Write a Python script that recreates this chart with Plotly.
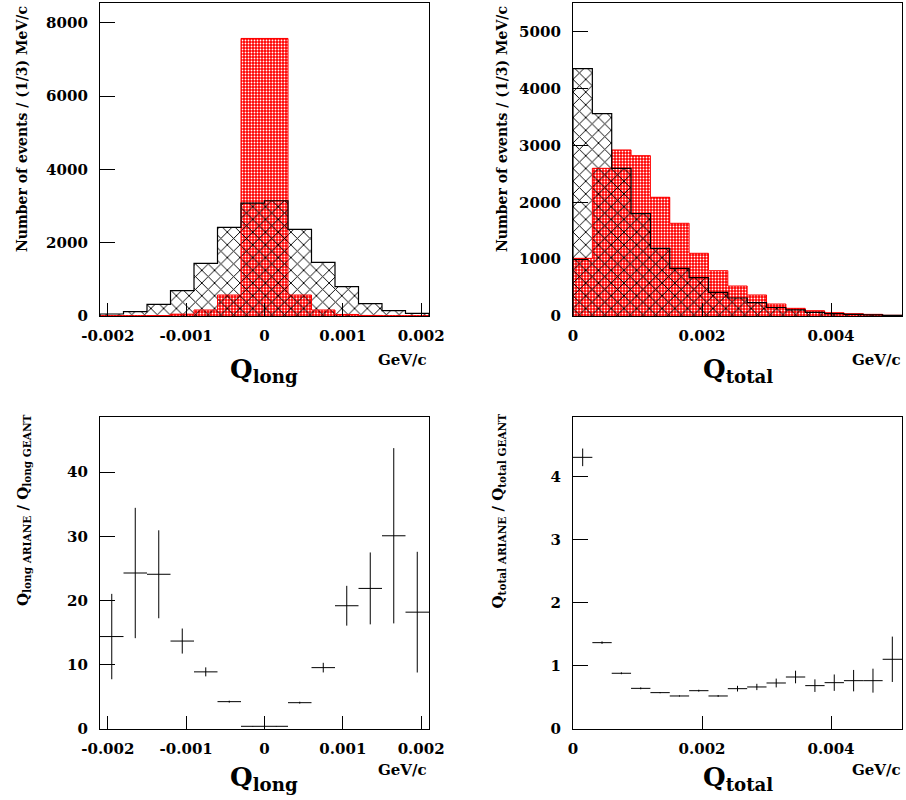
import plotly.graph_objects as go

# ---------------- data ----------------
BIN_W = 0.0003

# Q_long histograms (14 bins from -0.0021 to 0.0021)
qlong_lo = -0.0021
qlong_ariane = [55, 120, 318, 690, 1436, 2418, 3082, 3145, 2364, 1464, 800, 336, 145, 73]
qlong_geant = [4, 5, 13, 50, 164, 573, 7573, 7573, 573, 164, 42, 15, 5, 4]

# Q_total histograms (17 bins from 0 to 0.0051)
qtot_lo = 0.0
qtot_ariane = [4355, 3563, 2600, 1802, 1192, 839, 675, 417, 317, 235, 150, 108, 65, 43, 30, 20, 12]
qtot_geant = [1015, 2600, 2923, 2823, 2090, 1632, 1104, 798, 528, 370, 211, 135, 94, 59, 41, 29, 12]

# ratios ARIANE / GEANT
qlong_ratio = [14.4, 24.3, 24.1, 13.7, 8.9, 4.26, 0.42, 0.42, 4.1, 9.56, 19.2, 21.9, 30.1, 18.2]
qlong_ratio_err = [6.65, 10.15, 6.85, 1.95, 0.7, 0.15, 0.05, 0.05, 0.15, 0.75, 3.1, 5.6, 13.65, 9.4]
qtot_ratio = [4.31, 1.37, 0.884, 0.645, 0.577, 0.524, 0.608, 0.524, 0.64, 0.667, 0.73, 0.825,
              0.688, 0.735, 0.767, 0.767, 1.106]
qtot_ratio_err = [0.14, 0.02, 0.015, 0.015, 0.01, 0.01, 0.015, 0.015, 0.045, 0.05, 0.07, 0.1,
                  0.1, 0.13, 0.17, 0.19, 0.36]

# tick labels
qlong_tickvals = [-0.002, -0.001, 0, 0.001, 0.002]
qlong_ticktext = ["-0.002", "-0.001", "0", "0.001", "0.002"]
qtot_tickvals = [0, 0.002, 0.004]
qtot_ticktext = ["0", "0.002", "0.004"]

# ---------------- helpers ----------------
FONT = "DejaVu Serif"


def edges(lo, n):
    return [lo + i * BIN_W for i in range(n + 1)]


def centers(lo, n):
    return [lo + (i + 0.5) * BIN_W for i in range(n)]


def step_xy(lo, vals):
    e = edges(lo, len(vals))
    xs = [e[0]] + e + [e[-1]]
    ys = [0] + list(vals) + [vals[-1], 0]
    return xs, ys


fig = go.Figure()


def add_hist(lo, ariane, geant, xa, ya):
    n = len(ariane)
    c = centers(lo, n)
    # GEANT (red, fine checker)
    fig.add_trace(go.Bar(
        x=c, y=geant, width=BIN_W, xaxis=xa, yaxis=ya,
        marker=dict(color="red", line=dict(width=0),
                    pattern=dict(shape=".", fgcolor="white", bgcolor="red",
                                 size=3, solidity=0.3, fillmode="replace")),
        showlegend=False, hoverinfo="skip"))
    xs, ys = step_xy(lo, geant)
    fig.add_trace(go.Scatter(x=xs, y=ys, mode="lines", line=dict(color="red", width=1, shape="hv"),
                             xaxis=xa, yaxis=ya, showlegend=False, hoverinfo="skip"))
    # ARIANE (black cross hatch)
    fig.add_trace(go.Bar(
        x=c, y=ariane, width=BIN_W, xaxis=xa, yaxis=ya,
        marker=dict(color="rgba(0,0,0,0)", line=dict(width=0),
                    pattern=dict(shape="x", fgcolor="black", bgcolor="rgba(0,0,0,0)",
                                 size=9, solidity=0.2, fillmode="replace")),
        showlegend=False, hoverinfo="skip"))
    xs, ys = step_xy(lo, ariane)
    fig.add_trace(go.Scatter(x=xs, y=ys, mode="lines", line=dict(color="black", width=1.2, shape="hv"),
                             xaxis=xa, yaxis=ya, showlegend=False, hoverinfo="skip"))


def add_ratio(lo, vals, errs, xa, ya):
    n = len(vals)
    fig.add_trace(go.Scatter(
        x=centers(lo, n), y=vals, mode="markers",
        marker=dict(size=2, color="rgba(0,0,0,0)"),
        error_x=dict(type="data", array=[BIN_W / 2] * n, width=0, thickness=1, color="black"),
        error_y=dict(type="data", array=errs, width=0, thickness=1, color="black"),
        xaxis=xa, yaxis=ya, showlegend=False, hoverinfo="skip"))


add_hist(qlong_lo, qlong_ariane, qlong_geant, "x", "y")
add_hist(qtot_lo, qtot_ariane, qtot_geant, "x2", "y2")
add_ratio(qlong_lo, qlong_ratio, qlong_ratio_err, "x3", "y3")
add_ratio(qtot_lo, qtot_ratio, qtot_ratio_err, "x4", "y4")

W, H = 906, 800
tickfont = dict(family=FONT, size=15, color="black", weight="bold")

col_left = [100 / W, 429 / W]
col_right = [573 / W, 902 / W]
row_top = [1 - 316 / H, 1 - 3 / H]
row_bot = [1 - 729 / H, 1 - 417 / H]


def xax(dom, rng, tv, tt, anchor):
    return dict(domain=dom, range=rng, tickvals=tv, ticktext=tt, ticks="inside", ticklen=13,
                tickwidth=1, tickcolor="black", showline=True, linecolor="black", linewidth=1.3,
                mirror=True, showgrid=False, zeroline=False, tickfont=tickfont,
                ticklabelstandoff=6, anchor=anchor, fixedrange=True, automargin=False)


def yax(dom, rng, dtick, anchor):
    return dict(domain=dom, range=rng, dtick=dtick, tick0=0, ticks="inside", ticklen=15,
                tickwidth=1, tickcolor="black", showline=True, linecolor="black", linewidth=1.3,
                mirror=True, showgrid=False, zeroline=False, tickfont=tickfont,
                ticklabelstandoff=8, anchor=anchor, fixedrange=True, automargin=False)


fig.update_layout(
    width=W, height=H, margin=dict(l=0, r=0, t=0, b=0, autoexpand=False),
    paper_bgcolor="white", plot_bgcolor="white", barmode="overlay", bargap=0,
    xaxis=xax(col_left, [-0.0021, 0.0021], qlong_tickvals, qlong_ticktext, "y"),
    yaxis=yax(row_top, [0, 8540], 2000, "x"),
    xaxis2=xax(col_right, [0, 0.0051], qtot_tickvals, qtot_ticktext, "y2"),
    yaxis2=yax(row_top, [0, 5510], 1000, "x2"),
    xaxis3=xax(col_left, [-0.0021, 0.0021], qlong_tickvals, qlong_ticktext, "y3"),
    yaxis3=yax(row_bot, [0, 48.6], 10, "x3"),
    xaxis4=xax(col_right, [0, 0.0051], qtot_tickvals, qtot_ticktext, "y4"),
    yaxis4=yax(row_bot, [0, 4.95], 1, "x4"),
)

ann = []


def text(x, y, s, size, xanchor="center", yanchor="middle", angle=0):
    ann.append(dict(x=x / W, y=1 - y / H, xref="paper", yref="paper", text=s, showarrow=False,
                    xanchor=xanchor, yanchor=yanchor, textangle=angle,
                    font=dict(family=FONT, size=size, color="black", weight="bold")))


# x-axis titles
text(264, 370, "Q<sub>long</sub>", 26)
text(738, 370, "Q<sub>total</sub>", 26)
text(264, 778, "Q<sub>long</sub>", 26)
text(738, 778, "Q<sub>total</sub>", 26)
for xr, yc in [(429, 360), (903, 360), (429, 770), (903, 770)]:
    text(xr, yc, "GeV/c", 15, xanchor="right")

# y-axis titles
text(22, 4, "Number of events / (1/3) MeV/c", 14, yanchor="top", angle=-90)
text(502, 4, "Number of events / (1/3) MeV/c", 14, yanchor="top", angle=-90)
text(23, 412, "Q<sub>long ARIANE</sub> / Q<sub>long GEANT</sub>", 15, yanchor="top", angle=-90)
text(498, 412, "Q<sub>total ARIANE</sub> / Q<sub>total GEANT</sub>", 15, yanchor="top", angle=-90)

fig.update_layout(annotations=ann)

fig.write_html("out.html")
